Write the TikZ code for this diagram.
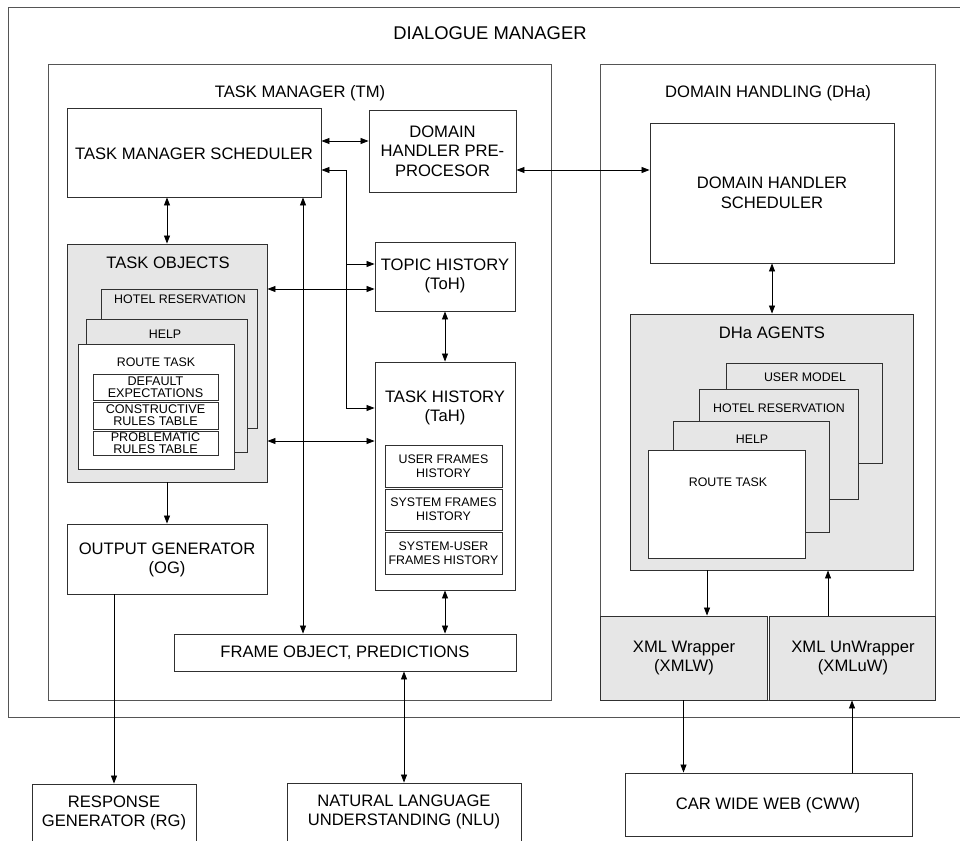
\documentclass[tikz,border=0pt]{standalone}
\usepackage{fontspec}
\setmainfont{Liberation Sans}
\usetikzlibrary{arrows.meta,fit}
\definecolor{lnc}{HTML}{303030}
\definecolor{outc}{HTML}{555555}
\definecolor{fillg}{HTML}{E6E6E6}
\newcommand\myfhuge{\fontsize{18.4}{21}\selectfont}
\newcommand\myfbig{\fontsize{16.6}{19.5}\selectfont}
\newcommand\myfmid{\fontsize{12.4}{14}\selectfont}
\newcommand\myfsml{\fontsize{12.6}{12.3}\selectfont}
\tikzset{
  bx/.style={draw=lnc, line width=0.9pt, inner sep=0pt, fill=white},
  gbx/.style={bx, fill=fillg},
  outer/.style={draw=outc, line width=0.9pt, inner sep=0pt},
  lbl/.style={inner sep=0pt, align=center},
  big/.style={lbl, font=\myfbig},
  mid/.style={lbl, font=\myfmid},
  sml/.style={lbl, font=\myfsml},
  arr/.style={draw=black, line width=0.8pt, -{Triangle[length=8pt,width=6pt]}},
  dbl/.style={draw=black, line width=0.8pt, {Triangle[length=8pt,width=6pt]}-{Triangle[length=8pt,width=6pt]}},
}
\begin{document}
\begin{tikzpicture}[x=1pt,y=-1pt]
\clip (0,0) rectangle (960,840);
\fill[white] (0,0) rectangle (960,840);

% Dialogue manager outer frame (right side runs off the picture)
\draw[outc, line width=0.9pt] (965,7) -- (8,7) -- (8,717) -- (965,717);
\node[lbl, font=\myfhuge] (dmlbl) at (490,33) {DIALOGUE MANAGER};

% Task manager and domain handling frames
\node[outer, fit={(48,64) (551,700)}] (tm) {};
\node[big] (tmlbl) at (300,93) {TASK MANAGER (TM)};
\node[outer, fit={(600,64) (935,700)}] (dh) {};
\node[big] (dhlbl) at (768,93) {DOMAIN HANDLING (DHa)};

% Task manager contents
\node[bx, fit={(67,108) (321,197)}] (tms) {};
\node[big] (tmst) at (194,154) {TASK MANAGER SCHEDULER};
\node[bx, fit={(369,110) (516,192)}] (dhpp) {};
\node[big] (dhppt) at (dhpp.center) {DOMAIN\\HANDLER PRE-\\PROCESOR};
\node[bx, fit={(375,242) (515,311)}] (toh) {};
\node[big] (toht) at (445,276) {TOPIC HISTORY\\(ToH)};

\node[gbx, fit={(67,244) (267,482)}] (to) {};
\node[big] (tolbl) at (168,263) {TASK OBJECTS};
\node[gbx, fit={(101,289) (257,428)}] (tohotel) {};
\node[mid] (tohotellbl) at (180,299) {HOTEL RESERVATION};
\node[gbx, fit={(86,319) (247,452)}] (tohelp) {};
\node[mid] (tohelplbl) at (165,334) {HELP};
\node[bx, fit={(78,344) (234,469)}] (toroute) {};
\node[mid] (toroutelbl) at (156,362) {ROUTE TASK};
\node[bx, fit={(93,374) (218,400)}] (defexp) {};
\node[sml] (defexpt) at (defexp.center) {DEFAULT\\EXPECTATIONS};
\node[bx, fit={(93,402) (218,429)}] (constr) {};
\node[sml] (constrt) at (constr.center) {CONSTRUCTIVE\\RULES TABLE};
\node[bx, fit={(93,431) (218,455)}] (probl) {};
\node[sml] (problt) at (probl.center) {PROBLEMATIC\\RULES TABLE};

\node[bx, fit={(375,362) (515,590)}] (tah) {};
\node[big] (tahlbl) at (445,408) {TASK HISTORY\\(TaH)};
\node[bx, fit={(385,445) (502,487)}] (ufh) {};
\node[mid] (ufht) at (ufh.center) {USER FRAMES\\HISTORY};
\node[bx, fit={(385,489) (502,530)}] (sfh) {};
\node[mid] (sfht) at (sfh.center) {SYSTEM FRAMES\\HISTORY};
\node[bx, fit={(385,532) (502,574)}] (sufh) {};
\node[mid] (sufht) at (sufh.center) {SYSTEM-USER\\FRAMES HISTORY};

\node[bx, fit={(67,524) (267,594)}] (og) {};
\node[big] (ogt) at (167,560) {OUTPUT GENERATOR\\(OG)};
\node[bx, fit={(174,634) (516,671)}] (fop) {};
\node[big] (fopt) at (fop.center) {FRAME OBJECT, PREDICTIONS};

% Domain handling contents
\node[bx, fit={(650,123) (894,263)}] (dhs) {};
\node[big] (dhst) at (772,193) {DOMAIN HANDLER\\SCHEDULER};
\node[gbx, fit={(630,314) (913,570)}] (dha) {};
\node[big] (dhalbl) at (772,333) {DHa AGENTS};
\node[gbx, fit={(726,363) (882,463)}] (dum) {};
\node[mid] (dumlbl) at (805,377) {USER MODEL};
\node[gbx, fit={(699,389) (858,499)}] (dhotel) {};
\node[mid] (dhotellbl) at (779,408) {HOTEL RESERVATION};
\node[gbx, fit={(673,421) (829,532)}] (dhelp) {};
\node[mid] (dhelplbl) at (752,439) {HELP};
\node[bx, fit={(648,450) (805,558)}] (droute) {};
\node[mid] (droutelbl) at (728,482) {ROUTE TASK};

\node[gbx, fit={(600,616) (767,700)}] (xmlw) {};
\node[big] (xmlwt) at (684,658) {XML Wrapper\\(XMLW)};
\node[gbx, fit={(769,616) (935,700)}] (xmluw) {};
\node[big] (xmluwt) at (853,658) {XML UnWrapper\\(XMLuW)};

% External components
\node[bx, fit={(625,773) (912,836)}] (cww) {};
\node[big] (cwwt) at (768,805) {CAR WIDE WEB (CWW)};
\node[bx, fit={(32,784) (196,860)}] (rg) {};
\node[big] (rglbl) at (114,813) {RESPONSE\\GENERATOR (RG)};
\node[bx, fit={(287,783) (521,860)}] (nlu) {};
\node[big] (nlulbl) at (404,812) {NATURAL LANGUAGE\\UNDERSTANDING (NLU)};

% helper coordinates
\coordinate (r141) at (0,141);
\coordinate (r170) at (0,170);
\coordinate (r289) at (0,289);
\coordinate (r441) at (0,441);
\coordinate (c303) at (303,0);
\coordinate (c707) at (707,0);
\coordinate (c828) at (828,0);
\coordinate (jA) at (346,170);
\coordinate (jB) at (346,408);
\coordinate (jC) at (346,264);

% connectors
\draw[dbl] (tms.east |- r141) -- (dhpp.west |- r141);
\draw[dbl] (dhpp.east |- r170) -- (dhs.west |- r170);
\draw[arr] (jA) -- (tms.east |- jA);
\draw[arr] (jA) -- (jB) -- (tah.west |- jB);
\draw[arr] (jC) -- (toh.west |- jC);
\draw[dbl] (to.north) -- (to.north |- tms.south);
\draw[dbl] (tms.south -| c303) -- (fop.north -| c303);
\draw[dbl] (to.east |- r289) -- (toh.west |- r289);
\draw[dbl] (to.east |- r441) -- (tah.west |- r441);
\draw[dbl] (toh.south) -- (tah.north);
\draw[dbl] (tah.south) -- (tah.south |- fop.north);
\draw[arr] (to.south) -- (og.north);
\draw[arr] (og.south -| rg.north) -- (rg.north);
\draw[dbl] (fop.south -| nlu.north) -- (nlu.north);
\draw[dbl] (dhs.south) -- (dhs.south |- dha.north);
\draw[arr] (dha.south -| c707) -- (xmlw.north -| c707);
\draw[arr] (xmluw.north -| c828) -- (dha.south -| c828);
\draw[arr] (xmlw.south) -- (xmlw.south |- cww.north);
\draw[arr] (cww.north -| xmluw.south) -- (xmluw.south);
\end{tikzpicture}
\end{document}
